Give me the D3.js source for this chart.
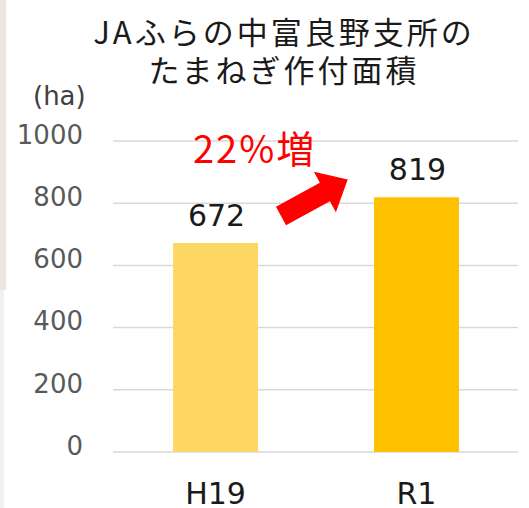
<!DOCTYPE html>
<html>
<head>
<meta charset="utf-8">
<script src="https://cdn.jsdelivr.net/npm/d3@7"></script>
<style>
  body { margin: 0; background: #fff; }
</style>
</head>
<body>
<div id="chart"></div>
<script>
// data
const categories = ["H19", "R1"];
const values = [672, 819];
const barColors = ["#fdd663", "#ffc000"];
const tickValues = [0, 200, 400, 600, 800, 1000];
const titleLines = ["JAふらの中富良野支所の", "たまねぎ作付面積"];
const unitLabel = "(ha)";
const changeLabel = "22%増";

const W = 529, H = 508;
const numFont = "'DejaVu Sans', Verdana, sans-serif";
const jpFont = "'Noto Sans CJK JP', 'Noto Sans', sans-serif";

const svg = d3.select("#chart")
  .append("svg")
  .attr("width", W)
  .attr("height", H);

// scanned left edge
svg.append("rect").attr("x", 0).attr("y", 0).attr("width", 6).attr("height", 290).attr("fill", "#ebe4e1");
svg.append("rect").attr("x", 0).attr("y", 290).attr("width", 4).attr("height", 218).attr("fill", "#f3f1f0");

// scales
const y = d3.scaleLinear().domain([0, 1000]).range([452, 141]);
const x = d3.scaleBand()
  .domain(categories)
  .range([115, 517])
  .paddingInner(0.577)
  .paddingOuter(0.289);

// gridlines
svg.append("g")
  .selectAll("line")
  .data(tickValues)
  .join("line")
  .attr("x1", 113)
  .attr("x2", 518)
  .attr("y1", d => y(d))
  .attr("y2", d => y(d))
  .attr("stroke", "#d9d9d9")
  .attr("stroke-width", 1.5);

// y axis labels
const yAxis = svg.append("g")
  .attr("transform", "translate(83,0)")
  .call(d3.axisLeft(y).tickValues(tickValues).tickFormat(d3.format("d")).tickSize(0).tickPadding(0));
yAxis.select(".domain").remove();
yAxis.selectAll("text")
  .attr("dy", "0.28em")
  .attr("y", -5)
  .attr("fill", "#595959")
  .style("font-size", "26px")
  .style("font-family", numFont);

// bars
svg.append("g")
  .selectAll("rect")
  .data(values)
  .join("rect")
  .attr("x", (d, i) => x(categories[i]))
  .attr("y", d => y(d))
  .attr("width", x.bandwidth())
  .attr("height", d => y(0) - y(d))
  .attr("fill", (d, i) => barColors[i]);

// value labels
svg.append("g")
  .selectAll("text")
  .data(values)
  .join("text")
  .attr("x", (d, i) => x(categories[i]) + x.bandwidth() / 2 + 1)
  .attr("y", d => y(d) - 17)
  .attr("text-anchor", "middle")
  .attr("fill", "#1a1a1a")
  .style("font-size", "30px")
  .style("font-family", numFont)
  .text(d => d);

// x labels
const xAxis = svg.append("g")
  .attr("transform", "translate(0,504)")
  .call(d3.axisBottom(x).tickSize(0).tickPadding(0));
xAxis.select(".domain").remove();
xAxis.selectAll("text")
  .attr("dy", 0)
  .attr("fill", "#1a1a1a")
  .style("font-size", "30px")
  .style("font-family", numFont);

// title (one text, two lines)
svg.append("text")
  .attr("text-anchor", "middle")
  .attr("fill", "#1a1a1a")
  .style("font-size", "31px")
  .style("font-family", jpFont)
  .style("letter-spacing", "3px")
  .selectAll("tspan")
  .data(titleLines)
  .join("tspan")
  .attr("x", 284)
  .attr("y", (d, i) => 44 + i * 38)
  .text(d => d);

// unit
svg.append("text")
  .attr("x", 33)
  .attr("y", 105)
  .attr("fill", "#404040")
  .style("font-size", "26px")
  .style("font-family", numFont)
  .text(unitLabel);

// increase label
svg.append("text")
  .attr("x", 193)
  .attr("y", 163)
  .attr("fill", "#ff0000")
  .style("font-size", "38px")
  .style("font-family", jpFont)
  .style("letter-spacing", "2px")
  .text(changeLabel);

// arrow (local coords: tail at 0, pointing +x)
const arrowLen = 76, shaftW = 21, headW = 46, headLen = 26;
const arrowPts = [
  [0, -shaftW / 2], [arrowLen - headLen, -shaftW / 2], [arrowLen - headLen, -headW / 2],
  [arrowLen, 0],
  [arrowLen - headLen, headW / 2], [arrowLen - headLen, shaftW / 2], [0, shaftW / 2]
];
svg.append("path")
  .attr("d", d3.line()(arrowPts) + "Z")
  .attr("transform", "translate(281,216) rotate(-28.6)")
  .attr("fill", "#ff0000");
</script>
</body>
</html>
